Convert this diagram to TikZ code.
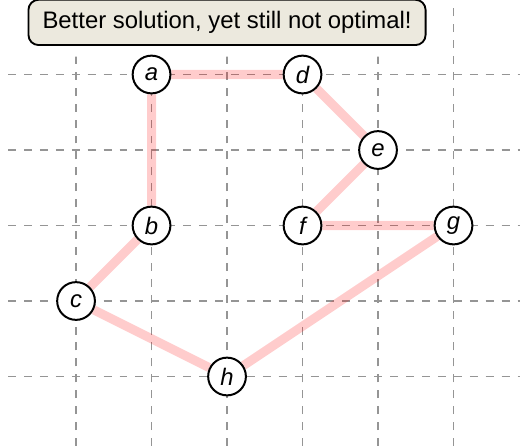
\documentclass[tikz,border=0pt]{standalone}
\usepackage{fontspec}
\setmainfont{Liberation Sans}
\usetikzlibrary{positioning,backgrounds}
\definecolor{GridGray}{HTML}{959595}
\definecolor{Paper}{HTML}{ECE9DE}

\begin{document}
\begin{tikzpicture}[
  city/.style={circle,draw=black,line width=0.75pt,fill=white,minimum size=0.5cm,inner sep=0pt,font=\fontsize{9}{10}\selectfont\itshape},
  route/.style={line width=3.4pt,draw=red,opacity=0.2},
  gridline/.style={dashed,draw=GridGray,line width=0.4pt},
  banner/.style={rounded corners=3.8pt,draw=black,line width=0.7pt,fill=Paper,minimum width=5.26cm,minimum height=0.6cm,font=\fontsize{9}{10}\selectfont}
]
\useasboundingbox (-0.007,0.08) rectangle (6.907,5.987);
\node[city] (a) at (2,5) {a};
\node[city] (d) at (4,5) {d};
\node[city] (e) at (5,4) {e};
\node[city] (b) at (2,3) {b};
\node[city] (f) at (4,3) {f};
\node[city] (g) at (6,3) {g};
\node[city] (c) at (1,2) {c};
\node[city] (h) at (3,1) {h};
\node[banner] (title) at (3,5.69) {Better solution, yet still not optimal!};
\begin{scope}[on background layer]
\draw[gridline] (0.1,0.08) grid (6.88,5.93);
% white margin round the title
\fill[white,rounded corners=6pt] ([shift={(-0.14,-0.14)}]title.south west) rectangle ([shift={(0.14,0.14)}]title.north east);
\draw[route] (a) -- (d) -- (e) -- (f) -- (g) -- (h) -- (c) -- (b) -- (a);
\end{scope}
\end{tikzpicture}
\end{document}
